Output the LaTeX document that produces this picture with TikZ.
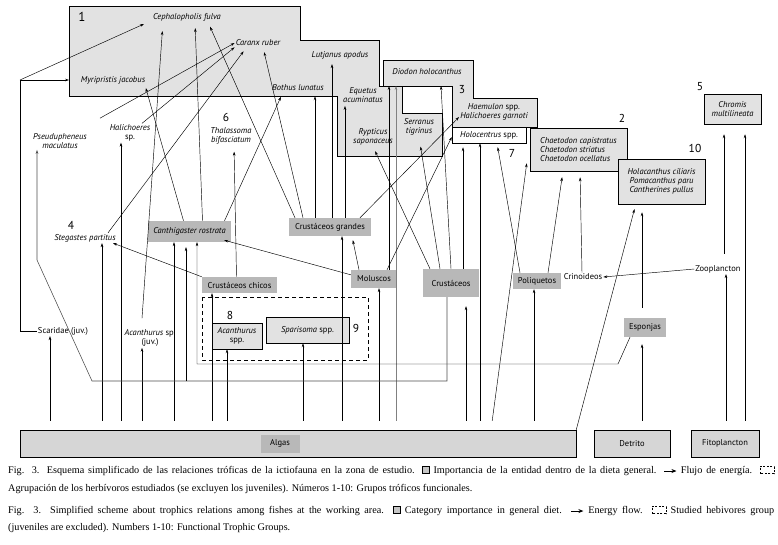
\documentclass[tikz,border=0pt]{standalone}
\usepackage{fontspec}
\usepackage{tikz}
\usetikzlibrary{arrows.meta}
\newfontfamily\diagfont{PT Sans}
\newfontfamily\capfont{Liberation Serif}
\definecolor{lightbox}{HTML}{E2E2E2}
\definecolor{darkbox}{HTML}{B8B8B8}
\definecolor{basebox}{HTML}{D6D6D6}
\tikzset{
  fl/.style={-{Stealth[length=4pt,width=2.6pt]}, line width=0.45pt},
  alg/.style={fl, shorten <=9pt},
  tipgap/.style={shorten >=#1},
  sp/.style={font=\diagfont\itshape\fontsize{8.5}{9.2}\selectfont, inner sep=1pt, align=center},
  tx/.style={font=\diagfont\fontsize{8.5}{9.2}\selectfont, inner sep=1pt, align=center},
  lightb/.style={draw, line width=0.5pt, fill=lightbox},
  num/.style={font=\diagfont\fontsize{11.5}{12}\selectfont, inner sep=0pt},
  captxt/.style={font=\capfont\fontsize{10.2}{11}\selectfont, inner sep=0pt, anchor=west},
}
\newcommand{\legbox}{\tikz[x=1pt,y=1pt,baseline=0pt]\draw[fill=gray!45, line width=0.5pt] (0,0) rectangle (7,7);}
\newcommand{\legarrow}{\tikz[x=1pt,y=1pt,baseline=-2.5pt]\draw[-{Stealth[length=5pt,width=4pt]}, line width=1pt] (0,0) -- (12,0);}
\newcommand{\legdash}{\tikz[x=1pt,y=1pt,baseline=0pt]\draw[dash pattern=on 2pt off 1.5pt, line width=0.5pt] (0,0) rectangle (14,7);}
\begin{document}
\begin{tikzpicture}[x=1pt,y=-1pt]
  \useasboundingbox (0,0) rectangle (778,544);
  % groups 1 and 3
  \draw[fill=lightbox, line width=0.5pt] (69,6) coordinate (g1nw) -- (300,6) -- (300,40) -- (379,40) -- (379,86) -- (402,86) -- (402,113) -- (442,113) -- (442,156) -- (337,156) -- (337,96) -- (69,96) -- cycle;
  \draw[fill=lightbox, line width=0.5pt] (383,60) -- (473,60) -- (473,98) -- (537,98) -- (537,127) -- (452,127) -- (452,86) -- (383,86) coordinate (g3sw) -- cycle;
  \node[num, font=\diagfont\fontsize{13}{13}\selectfont] (n1) at (82,17) {1};
  \node[sp] (ceph) at (187,17) {Cephalopholis fulva};
  \node[sp] (cara) at (258,43) {Caranx ruber};
  \node[sp] (myri) at (113,80) {Myripristis jacobus};
  \node[sp] (lutj) at (340,55) {Lutjanus apodus};
  \node[sp] (both) at (298,88) {Bothus lunatus};
  \node[sp] (eque) at (363,95) {Equetus\\acuminatus};
  \node[sp] (rypt) at (373,137) {Rypticus\\saponaceus};
  \node[sp] (serr) at (419,127) {Serranus\\tigrinus};
  \node[sp] (diod) at (427,72) {Diodon holocanthus};
  \node[num] (n3) at (462,90) {3};
  \node[sp] (haem) at (494,112) {Haemulon \textup{spp.}\\Halichoeres garnoti};
  \node[sp, draw, line width=0.5pt, fill=white, minimum width=74pt, minimum height=16pt] (holo) at (489,135) {Holocentrus \textup{spp.}};
  \node[num] (n7) at (512,153) {7};
  % groups 2, 10 and 5
  \node[sp, lightb, minimum width=97pt, minimum height=43pt, align=left] (chae) at (578.5,149.5) {Chaetodon capistratus\\Chaetodon striatus\\Chaetodon ocellatus};
  \node[num] (n2) at (622,118) {2};
  \node[sp, lightb, minimum width=87pt, minimum height=45pt] (g10) at (661.5,181.5) {Holacanthus ciliaris\\Pomacanthus paru\\Cantherines pullus};
  \node[num] (n10) at (695,148) {10};
  \node[sp, lightb, minimum width=57pt, minimum height=30pt] (chro) at (732.5,109) {Chromis\\multilineata};
  \node[num] (n5) at (700,87) {5};
  % free species
  \node[sp] (pseu) at (60,141) {Pseudupheneus\\maculatus};
  \node[sp] (hali) at (130,133) {Halichoeres\\\textup{sp.}};
  \node[num] (n6) at (226,117) {6};
  \node[sp] (thal) at (231,136) {Thalassoma\\bifasciatum};
  \node[num] (n4) at (71,225) {4};
  \node[sp] (steg) at (85,238) {Stegastes partitus};
  \node[sp, fill=darkbox, minimum width=83pt, minimum height=21pt] (cant) at (189.5,231.5) {Canthigaster rostrata};
  \node[tx] (scar) at (63,331) {Scaridae (juv.)};
  \node[tx] (acju) at (150,338) {\textit{Acanthurus} sp.\\(juv.)};
  % prey
  \node[tx, fill=darkbox, minimum width=82pt, minimum height=18pt] (crgr) at (330,227) {Crustáceos grandes};
  \node[tx, fill=darkbox, minimum width=46pt, minimum height=18pt] (molu) at (374,279) {Moluscos};
  \node[tx, fill=darkbox, minimum width=56pt, minimum height=28pt] (crus) at (451,283) {Crustáceos};
  \node[tx, fill=darkbox, minimum width=48pt, minimum height=16pt] (poli) at (537,281) {Poliquetos};
  \node[tx] (crin) at (583,277) {Crinoideos};
  \node[tx] (zoop) at (718,269) {Zooplancton};
  \node[tx, fill=darkbox, minimum width=42pt, minimum height=19pt] (espo) at (645,327.5) {Esponjas};
  \node[tx, fill=darkbox, minimum width=75pt, minimum height=16pt] (crch) at (239.5,285) {Crustáceos chicos};
  % herbivores
  \draw[dash pattern=on 4pt off 3pt, line width=0.5pt] (202,297) rectangle (368,360);
  \node[num] (n8) at (230,315) {8};
  \node[sp, lightb, minimum width=50pt, minimum height=26pt] (acsp) at (237,336) {Acanthurus\\\textup{spp.}};
  \node[sp, lightb, minimum width=83pt, minimum height=26pt] (spar) at (307.5,330) {Sparisoma \textup{spp.}};
  \node[num] (n9) at (356,328) {9};
  % base
  \node[lightb, fill=basebox, minimum width=556pt, minimum height=27pt] (algas) at (298,443.5) {};
  \node[tx, fill=darkbox, minimum width=39pt, minimum height=18pt] (alglab) at (280,443.5) {Algas};
  \node[tx, lightb, fill=basebox, minimum width=76pt, minimum height=27pt] (detr) at (632,443.5) {Detrito};
  \node[tx, lightb, fill=basebox, minimum width=68pt, minimum height=27pt] (fito) at (725,443.5) {Fitoplancton};

  % flows from the base
  \foreach \x/\n in {50/scar, 102/steg, 121/hali, 142/acju, 174/cant, 212/crch, 227/acsp, 303/spar, 342/crgr, 379/molu, 480/holo, 534/poli}
    \draw[alg] (\x,0 |- algas.north) -- (\x,0 |- \n.south);
  \draw[alg, tipgap=9pt] (466,0 |- algas.north) -- (466,0 |- crus.south);
  \draw[alg, draw=gray] (396,0 |- algas.north) -- (396,0 |- g3sw);
  \draw[alg] (491,0 |- algas.north) -- ([xshift=-3pt,yshift=8pt]chae.south west);
  \draw[fl, tipgap=5pt] (algas.north east) -- ([xshift=18pt]g10.south west);
  \draw[alg, tipgap=7pt] (642,0 |- detr.north) -- (642,0 |- espo.south);
  \draw[alg] (726,0 |- fito.north) -- (726,0 |- zoop.south);
  \draw[alg, tipgap=10pt] (745,0 |- fito.north) -- (745,0 |- chro.south);
  % plankton, sponges, worms
  \draw[fl, shorten <=10pt, tipgap=8pt] (642,0 |- espo.north) -- (642,0 |- g10.south);
  \draw[fl, shorten <=10pt, tipgap=10pt] (724,0 |- zoop.north) -- (724,0 |- chro.south);
  \draw[fl] (zoop.west) -- (crin.east);
  \draw[fl, tipgap=6pt] ([xshift=-1pt]crin.north) -- (580,0 |- chae.south);
  \draw[fl, tipgap=6pt] ([xshift=11pt]poli.north) -- (563,0 |- chae.south);
  \draw[fl, tipgap=4pt] ([xshift=-17pt]poli.north) -- (497,0 |- holo.south);
  \draw[fl] ([xshift=-15pt]espo.south) -- (618,364) coordinate (espline) -- (197,0 |- espline) -- (197,0 |- cant.south);
  % crustaceans
  \draw[fl, tipgap=5pt] ([xshift=-21pt]crus.north) -- (rypt.south);
  \draw[fl, tipgap=10pt] ([xshift=-11pt]crus.north) -- (serr.south);
  \draw[fl] (crus.north) -- (441,0 |- g3sw);
  \draw[fl, tipgap=4pt] ([xshift=12pt]crus.north) -- (463,0 |- holo.south);
  \draw[fl, draw=black!70, line width=0.55pt] ([xshift=-4pt]crus.south) -- (447,381) coordinate (crline) -- (92,0 |- crline) -- (37,260) -- (37,0 |- pseu.south);
  \draw[fl, tipgap=5pt] (186,0 |- crline) -- (186,0 |- cant.south);
  % molluscs
  \draw[fl] ([yshift=-5pt]molu.north west) -- ([xshift=-7pt,yshift=2pt]cant.south east);
  \draw[fl, tipgap=4pt] ([xshift=-15pt]molu.north) -- (352,0 |- crgr.south);
  \draw[fl] ([xshift=15pt]molu.north) -- (389,0 |- g3sw);
  \draw[fl] ([xshift=13pt]molu.north) -- ([yshift=-2pt]holo.west);
  % large crustaceans
  \draw[fl, tipgap=5pt] ([xshift=-35pt]crgr.north) -- (208,0 |- ceph.south);
  \draw[fl, tipgap=5pt] ([xshift=-27pt]crgr.north) -- (263,0 |- cara.south);
  \draw[fl, tipgap=4pt] ([xshift=-15pt]crgr.north) -- (315,0 |- both.south);
  \draw[fl, tipgap=4pt] ([xshift=2pt]crgr.north) -- (332,0 |- lutj.south);
  \draw[fl, tipgap=2pt] ([xshift=15pt]crgr.north) -- (345,0 |- eque.south);
  \draw[fl] ([xshift=30pt]crgr.north) -- ([yshift=-5pt]haem.west);
  % Canthigaster and small crustaceans
  \draw[fl, tipgap=3pt] ([xshift=-6pt]cant.north) -- (145,0 |- myri.south);
  \draw[fl, tipgap=6pt] ([xshift=13pt]cant.north) -- (195,0 |- ceph.south);
  \draw[fl, tipgap=5pt] ([xshift=35pt]cant.north) -- (283,0 |- both.south);
  \draw[fl, tipgap=6pt] ([xshift=-3pt]crch.north) -- (234,0 |- thal.south);
  \draw[fl] (crch.north west) -- ([xshift=28pt]steg.south);
  % small fishes
  \draw[fl] ([xshift=23pt]steg.north) -- ([xshift=9pt,yshift=-4pt]cara.south west);
  \draw[fl, tipgap=9pt] ([xshift=-8pt,yshift=10pt]acju.north) -- (163,0 |- ceph.south);
  \draw[fl] ([xshift=12pt]hali.north) -- (cara.south west);
  \draw[fl] ([xshift=12pt,yshift=14pt]pseu.north east) -- (cara.west);
  \coordinate (scarknee) at (20,80);
  \draw[fl] (scar.west) -| (scarknee) -- (g1nw |- myri.west);
  \draw[fl] (scarknee) -- ([xshift=-8pt,yshift=-7pt]ceph.west);

  % caption
  \node[captxt] (cap1) at (8,471) {\makebox[766pt][s]{Fig. 3. Esquema simplificado de las relaciones tróficas de la ictiofauna en la zona de estudio. \legbox{} Importancia de la entidad dentro de la dieta general. \legarrow{} Flujo de energía. \legdash{}}};
  \node[captxt] (cap2) at (8,489) {Agrupación de los herbívoros estudiados (se excluyen los juveniles). Números 1-10: Grupos tróficos funcionales.};
  \node[captxt] (cap3) at (8,511) {\makebox[766pt][s]{Fig. 3. Simplified scheme about trophics relations among fishes at the working area. \legbox{} Category importance in general diet. \legarrow{} Energy flow. \legdash{} Studied hebivores group}};
  \node[captxt] (cap4) at (8,528) {(juveniles are excluded). Numbers 1-10: Functional Trophic Groups.};
\end{tikzpicture}
\end{document}
